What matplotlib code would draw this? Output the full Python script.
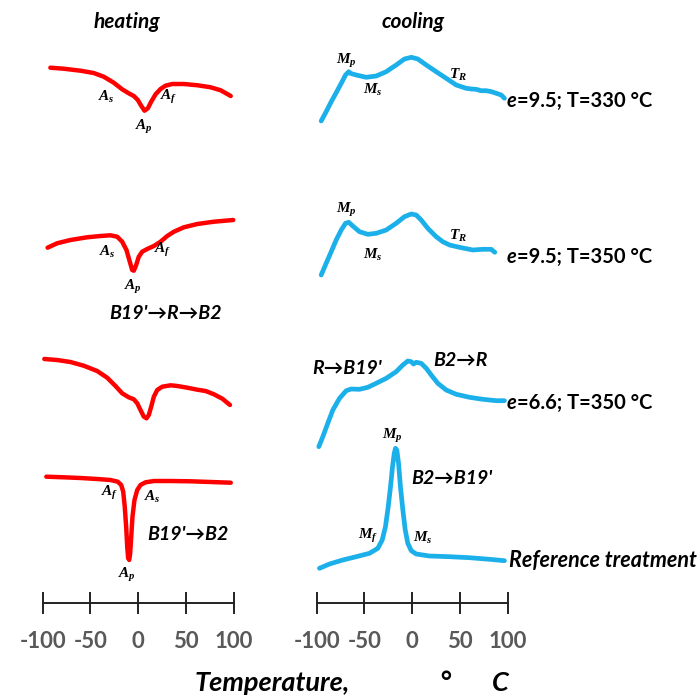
import matplotlib
matplotlib.use("Agg")
import matplotlib.pyplot as plt

plt.rcParams['font.family'] = ['Lato', 'DejaVu Sans']
plt.rcParams['mathtext.fontset'] = 'custom'
plt.rcParams['mathtext.it'] = 'Liberation Serif:italic:bold'
plt.rcParams['mathtext.rm'] = 'Liberation Serif:bold'

# --- data (arbitrary heat-flow units) ---
heat1_T = [-92.0, -78.1, -60.5, -46.6, -36.1, -25.6, -16.8, -9.9, -4.6, -0.4, 3.1, 6.6,
           10.1, 13.6, 18.2, 23.4, 28.6, 35.7, 47.8, 62.3, 75.9, 86.4, 96.9]
heat1_q = [35.3, 34.3, 32.3, 30.0, 26.3, 20.3, 13.7, 9.7, 7.0, 3.0, -2.7, -7.7,
           -5.3, 1.3, 8.7, 14.0, 17.3, 19.0, 19.0, 17.7, 15.7, 12.7, 7.0]

heat2_T = [-94.9, -85.0, -71.0, -53.5, -39.6, -29.1, -22.0, -16.8, -12.3, -8.8, -6.3, -4.6,
           -2.1, 0.6, 4.2, 9.4, 16.4, 23.4, 30.4, 37.4, 47.8, 61.9, 79.3, 99.5]
heat2_q = [5.3, 9.7, 13.0, 15.7, 17.0, 17.7, 16.3, 11.3, 3.0, -8.7, -17.0, -17.7,
           -12.0, -3.7, 1.3, 4.0, 7.0, 11.3, 17.0, 21.3, 25.7, 29.0, 31.3, 33.0]

heat3_T = [-98.3, -85.0, -71.0, -57.1, -43.0, -32.5, -23.8, -16.8, -9.9, -4.6, -1.0, 2.4,
           5.9, 8.7, 11.1, 13.6, 16.4, 19.9, 25.2, 33.9, 40.9, 51.4, 61.9, 70.6, 79.3,
           88.1, 96.1]
heat3_q = [44.0, 43.0, 41.0, 37.3, 32.0, 25.3, 17.0, 9.7, 5.7, 3.7, -0.3, -7.0,
           -13.7, -15.3, -12.0, -3.7, 6.3, 13.0, 16.3, 17.7, 17.0, 15.3, 13.3, 12.0, 8.7,
           4.3, -2.0]

heat4_T = [-96.2, -78.1, -60.5, -43.0, -29.1, -21.4, -17.8, -15.7, -14.1, -12.6, -11.5,
           -10.5, -9.4, -8.4, -7.3, -6.0, -3.9, -1.0, 2.4, 7.7, 16.4, 33.9, 54.9, 75.9, 96.9]
heat4_q = [1.3, 0.7, 0.0, -1.0, -2.0, -3.7, -7.0, -13.7, -28.7, -48.7, -68.7,
           -80.3, -82.0, -75.3, -58.7, -38.7, -22.0, -12.0, -7.0, -4.3, -3.0, -3.0, -3.3,
           -4.0, -4.7]

cool1_T = [-95.3, -90.1, -84.8, -79.6, -74.3, -69.8, -66.4, -64.9, -58.6, -48.2, -37.7,
           -27.2, -16.8, -8.1, -1.0, 5.9, 14.7, 25.1, 35.6, 46.1, 56.5, 62.0, 67.0, 72.0,
           77.5, 83.0, 88.0, 93.2, 96.6]
cool1_q = [-18.0, -8.7, 1.3, 10.3, 19.7, 28.0, 31.3, 29.7, 28.0, 25.7, 27.0,
           31.3, 38.0, 44.0, 45.7, 44.0, 38.0, 31.3, 24.7, 18.0, 14.7, 14.0, 13.7, 12.3,
           12.3, 11.3, 9.7, 8.0, 4.7]

cool2_T = [-95.3, -90.1, -84.8, -79.6, -74.3, -69.8, -66.4, -62.2, -55.2, -46.5, -37.7,
           -27.2, -16.8, -8.1, -1.0, 4.2, 9.4, 16.3, 25.1, 32.0, 39.1, 49.5, 63.5, 73.9,
           82.7, 86.5]
cool2_q = [-22.0, -10.3, 1.3, 13.0, 23.0, 29.7, 30.7, 27.0, 21.3, 18.7, 19.7,
           23.0, 29.7, 36.3, 39.0, 38.0, 33.0, 24.7, 16.3, 11.3, 8.0, 5.7, 3.0, 3.7,
           3.7, 0.7]

cool3_T = [-97.8, -93.6, -88.4, -83.1, -76.1, -69.1, -63.9, -55.2, -46.5, -37.7, -27.2,
           -16.8, -9.8, -4.6, -1.0, 1.4, 4.2, 9.4, 14.7, 19.9, 26.8, 35.6, 46.1, 60.0,
           73.9, 88.0, 96.6]
cool3_q = [-43.7, -33.7, -20.3, -7.0, 4.7, 12.3, 14.0, 13.7, 15.7, 19.7, 24.7,
           31.3, 38.0, 42.0, 41.3, 39.0, 40.7, 39.7, 34.7, 28.0, 19.7, 13.0, 8.7, 5.7,
           3.7, 2.3, 2.3]

cool4_T = [-97.1, -86.6, -72.7, -58.6, -44.7, -36.0, -31.4, -28.0, -25.1, -22.7, -20.6,
           -18.8, -17.5, -16.1, -14.3, -12.3, -9.8, -7.3, -4.6, -1.0, 4.2, 18.1, 39.1,
           60.0, 81.0, 96.6]
cool4_q = [4.7, 9.0, 13.0, 16.3, 19.7, 24.7, 33.0, 46.3, 66.3, 86.3, 106.3,
           119.7, 124.7, 123.0, 109.7, 86.3, 63.0, 43.0, 29.7, 22.3, 19.0, 17.0, 16.3,
           15.3, 13.7, 12.3]

heating = [(heat1_T, heat1_q), (heat2_T, heat2_q), (heat3_T, heat3_q), (heat4_T, heat4_q)]
cooling = [(cool1_T, cool1_q), (cool2_T, cool2_q), (cool3_T, cool3_q), (cool4_T, cool4_q)]
heat_offsets = [500, 350, 200, 125]
cool_offsets = [500, 350, 200, 30]

row_e = ['9.5', '9.5', '6.6']
row_T = ['330', '350', '350']
xticks = [-100, -50, 0, 50, 100]

W, H = 700, 695
fig = plt.figure(figsize=(W / 100, H / 100), dpi=100)


def px(x, y):
    return x / W, 1 - y / H


def make_axes(left_px):
    ax = fig.add_axes([left_px / W, (H - 603) / H, 191 / W, 573 / H])
    ax.set_xlim(-100, 100)
    ax.set_ylim(0, 573)
    for s in ['left', 'right', 'top']:
        ax.spines[s].set_visible(False)
    ax.spines['bottom'].set_linewidth(1.4)
    ax.spines['bottom'].set_color('#222222')
    ax.set_yticks([])
    ax.set_xticks(xticks)
    ax.set_xticklabels([str(t) for t in xticks])
    ax.tick_params(axis='x', direction='inout', length=16, width=1.4, color='#222222',
                   labelsize=16, labelcolor='#595959', pad=12)
    for lbl in ax.get_xticklabels():
        lbl.set_fontweight('bold')
    ax.patch.set_visible(False)
    return ax


axh = make_axes(42.7)
axc = make_axes(316.7)

for (T, q), off in zip(heating, heat_offsets):
    axh.plot(T, [v + off for v in q], color='#ff0000', lw=3.2, clip_on=False,
             solid_capstyle='round', solid_joinstyle='round')
for (T, q), off in zip(cooling, cool_offsets):
    axc.plot(T, [v + off for v in q], color='#1cb0ea', lw=3.4, clip_on=False,
             solid_capstyle='round', solid_joinstyle='round')

# small serif labels on curves
ann = [('$A_s$', 106, 97), ('$A_p$', 144, 127), ('$A_f$', 169, 97),
       ('$A_s$', 107, 252), ('$A_f$', 163, 250), ('$A_p$', 133, 287),
       ('$A_f$', 110, 493), ('$A_s$', 152, 497), ('$A_p$', 127, 575),
       ('$M_p$', 346, 61), ('$M_s$', 373, 90), ('$T_R$', 458, 75),
       ('$M_p$', 346, 210), ('$M_s$', 373, 255), ('$T_R$', 458, 236),
       ('$M_p$', 392, 436), ('$M_f$', 368, 536), ('$M_s$', 423, 538)]
for s, x, y in ann:
    fig.text(*px(x, y), s, fontsize=11, ha='center', va='center')

bold_it = dict(fontweight='bold', fontstyle='italic', ha='center', va='center')
fig.text(*px(127, 22), 'heating', fontsize=15, **bold_it)
fig.text(*px(413, 22), 'cooling', fontsize=15, **bold_it)
fig.text(*px(165, 313), "B19'→R→B2", fontsize=14, **bold_it)
fig.text(*px(347, 369), "R→B19'", fontsize=14, **bold_it)
fig.text(*px(461, 360), "B2→R", fontsize=14, **bold_it)
fig.text(*px(452, 478), "B2→B19'", fontsize=14, **bold_it)
fig.text(*px(188, 535), "B19'→B2", fontsize=14, **bold_it)

# "e" in italic, the rest upright, joined end to end
for e, t, y in zip(row_e, row_T, [101, 257, 403]):
    te = fig.text(*px(507, y), 'e', fontsize=14.5, fontweight='bold', fontstyle='italic',
                  ha='left', va='center')
    fig.text(0, 0, '')
    plt.annotate(f'={e}; T={t} °C', xy=(1, 0), xycoords=te, fontsize=14.5,
                 fontweight='bold', ha='left', va='bottom')
fig.text(*px(509, 560), 'Reference treatment', fontsize=15.5, fontweight='bold',
         fontstyle='italic', ha='left', va='center')

fig.text(*px(195, 683), 'Temperature,', fontsize=19.5, fontweight='bold', fontstyle='italic',
         ha='left', va='center')
fig.text(*px(445, 683), '°', fontsize=19.5, **bold_it)
fig.text(*px(500, 683), 'C', fontsize=19.5, **bold_it)

fig.savefig('out.png', dpi=100)
